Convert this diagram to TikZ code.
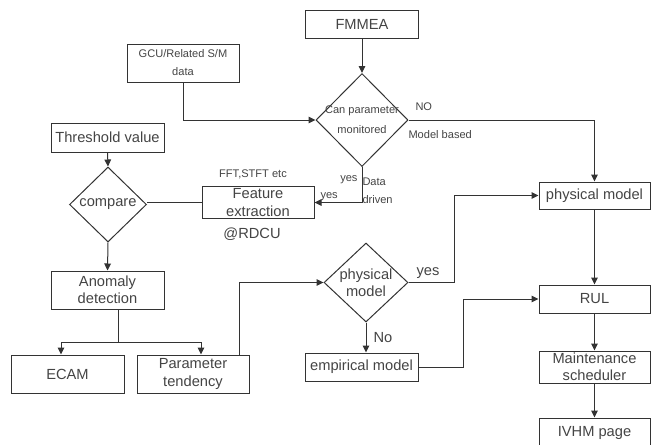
\documentclass[tikz,border=0pt]{standalone}
\usepackage{fontspec}
\setmainfont{Liberation Sans}
\usetikzlibrary{shapes.geometric,arrows.meta,calc}

\definecolor{linegray}{RGB}{51,51,51}
\definecolor{textgray}{RGB}{68,68,68}

\tikzset{every picture/.style={line width=0.75pt}}
\tikzset{
  bigtext/.style={font=\fontsize{11}{12.8}\selectfont, text=textgray, align=center, inner sep=0.75pt},
  smalltext/.style={font=\fontsize{8.3}{13.5}\selectfont, text=textgray, align=center, inner sep=0.75pt},
  procbox/.style={draw=linegray, rectangle, bigtext, inner sep=0pt},
  decision/.style={draw=linegray, diamond, inner sep=0pt},
  arr/.style={draw=linegray, -{Triangle[length=5.25pt,width=5pt]}},
  link/.style={draw=linegray}
}

\begin{document}
\begin{tikzpicture}[x=0.75pt,y=0.75pt,yscale=-1,xscale=1]
\useasboundingbox (0,0) rectangle (654,444);

%Shape: Rectangle [id:fmmea]
\node [procbox, minimum width=84.75pt, minimum height=21pt] (fmmea) at (362,24) {FMMEA};
%Shape: Rectangle [id:gcu]
\node [procbox, smalltext, draw=linegray, minimum width=84pt, minimum height=28.5pt, inner sep=0pt] (gcu) at (183,63) {GCU/Related S/M\\data};
%Shape: Diamond [id:cpm]
\node [decision, minimum width=69pt, minimum height=69.75pt] (cpm) at (362,120) {};
\node [smalltext, font=\fontsize{8.3}{15}\selectfont] (cpmtext) at (cpm) {Can parameter\\monitored};
%Shape: Rectangle [id:thr]
\node [procbox, minimum width=84.75pt, minimum height=21.75pt] (thr) at (107.5,137.5) {Threshold value};
%Shape: Diamond [id:cmp]
\node [decision, minimum width=57.75pt, minimum height=56.25pt] (cmp) at (108,204.5) {};
\node [bigtext] (cmptext) at (cmp) {compare};
%Shape: Rectangle [id:fe]
\node [procbox, minimum width=84pt, minimum height=24pt] (fe) at (258,202.5) {Feature\\extraction};
%Shape: Rectangle [id:an]
\node [procbox, minimum width=84.75pt, minimum height=28.5pt] (an) at (107.5,290) {Anomaly\\detection};
%Shape: Rectangle [id:ecam]
\node [procbox, minimum width=84.75pt, minimum height=28.5pt] (ecam) at (67.5,374) {ECAM};
%Shape: Rectangle [id:pt]
\node [procbox, minimum width=84pt, minimum height=28.5pt] (pt) at (193,374) {Parameter\\tendency};
%Shape: Diamond [id:pmd]
\node [decision, minimum width=63pt, minimum height=59.25pt] (pmd) at (366,282.5) {};
\node [bigtext] (pmdtext) at (pmd) {physical\\model};
%Shape: Rectangle [id:em]
\node [procbox, minimum width=84.75pt, minimum height=21pt] (em) at (361.5,367) {empirical model};
%Shape: Rectangle [id:pm]
\node [procbox, minimum width=83.25pt, minimum height=20.25pt] (pm) at (594.5,195.5) {physical model};
%Shape: Rectangle [id:rul]
\node [procbox, minimum width=83.25pt, minimum height=21pt] (rul) at (594.5,299) {RUL};
%Shape: Rectangle [id:ms]
\node [procbox, minimum width=83.25pt, minimum height=24pt] (ms) at (594.5,367) {Maintenance\\scheduler};
%Shape: Rectangle [id:ivhm]
\node [procbox, minimum width=83.25pt, minimum height=22.5pt] (ivhm) at (594.5,433) {IVHM page};

%Straight Lines
\draw [arr] (fmmea.south) -- (cpm.north);
\draw [arr] (gcu.south) |- (cpm.west);
\draw [arr] (cpm.east) -| (pm.north);
\draw [arr] (cpm.south) |- (fe.east);
\draw [link] (fe.west) -- (fe.west -| cmp.east);
\draw [arr] (thr.south) -- (cmp.north);
\draw [arr] (cmp.south) -- (an.north);
%Branch of anomaly detection
\coordinate (br) at ($(an.south)+(10.5,33)$);
\draw [link] (an.south -| br) -- (br);
\draw [arr] (br) -| ($(ecam.north)+(-6.5,0)$);
\draw [arr] (br) -| ($(pt.north)+(8,0)$);
\draw [arr] ($(pt.north)+(46,0)$) |- (pmd.west);
\draw [arr] (pmd.east) -- ++(46,0) |- (pm.west);
\draw [arr] (pmd.south) -- (pmd.south |- em.north);
\draw [arr] (em.east) -- ++(45,0) |- (rul.west);
\draw [arr] (pm.south) -- (rul.north);
\draw [arr] (rul.south) -- (ms.north);
\draw [arr] (ms.south) -- (ivhm.north);

% Text Node
\node [smalltext, anchor=south west] (notext) at (414,112) {NO};
% Text Node
\node [smalltext, anchor=west] (mbtext) at (407,135) {Model based};
% Text Node
\node [smalltext, anchor=east] (yestext) at (359,180) {yes};
% Text Node
\node [smalltext, anchor=west, font=\fontsize{8.3}{13.5}\selectfont, align=left] (ddtext) at (361,191) {Data\\driven};
% Text Node
\node [smalltext, anchor=west] (yesfe) at (319,197) {yes};
% Text Node
\node [smalltext] (ffttext) at (253,174) {FFT,STFT etc};
% Text Node
\node [bigtext] (rdcutext) at (252,234) {@RDCU};
% Text Node
\node [bigtext] (yespmd) at (428,273) {yes};
% Text Node
\node [bigtext] (nopmd) at (383,338) {No};

\end{tikzpicture}
\end{document}
